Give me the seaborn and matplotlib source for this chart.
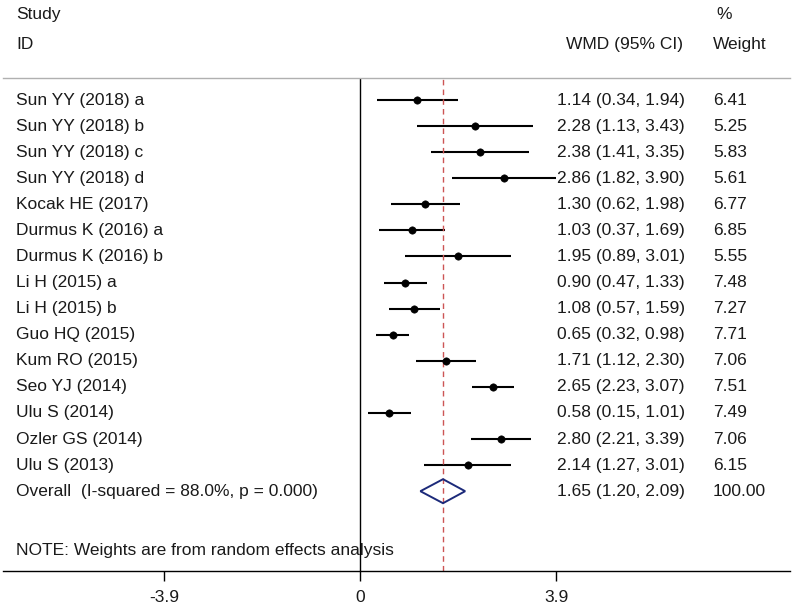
import matplotlib
matplotlib.use("Agg")
import matplotlib.pyplot as plt
import seaborn as sns
import pandas as pd

# study data
studies = ["Sun YY (2018) a", "Sun YY (2018) b", "Sun YY (2018) c", "Sun YY (2018) d",
           "Kocak HE (2017)", "Durmus K (2016) a", "Durmus K (2016) b", "Li H (2015) a",
           "Li H (2015) b", "Guo HQ (2015)", "Kum RO (2015)", "Seo YJ (2014)",
           "Ulu S (2014)", "Ozler GS (2014)", "Ulu S (2013)"]
wmd = [1.14, 2.28, 2.38, 2.86, 1.30, 1.03, 1.95, 0.90, 1.08, 0.65, 1.71, 2.65, 0.58, 2.80, 2.14]
lower = [0.34, 1.13, 1.41, 1.82, 0.62, 0.37, 0.89, 0.47, 0.57, 0.32, 1.12, 2.23, 0.15, 2.21, 1.27]
upper = [1.94, 3.43, 3.35, 3.90, 1.98, 1.69, 3.01, 1.33, 1.59, 0.98, 2.30, 3.07, 1.01, 3.39, 3.01]
weights = [6.41, 5.25, 5.83, 5.61, 6.77, 6.85, 5.55, 7.48, 7.27, 7.71, 7.06, 7.51, 7.49, 7.06, 6.15]

overall_label = "Overall  (I-squared = 88.0%, p = 0.000)"
overall_est = 1.65
overall_lo = 1.20
overall_hi = 2.09
overall_weight = 100.00

tick_vals = [-3.9, 0, 3.9]
tick_labels = ["-3.9", "0", "3.9"]

df = pd.DataFrame({"study": studies, "wmd": wmd, "lower": lower, "upper": upper,
                   "weight": weights, "row": range(len(studies))})

sns.set_style("white")
plt.rcParams["font.family"] = ["Liberation Sans", "DejaVu Sans"]
txt = "#1a1a1a"
fs = 12.5

fig = plt.figure(figsize=(8, 6.11), dpi=100)
W, H = 800, 611
ax = fig.add_axes([3 / W, 1 - 571 / H, 787 / W, (571 - 78) / H])

# CI lines and point estimates
ax.hlines(df["row"], df["lower"], df["upper"], color="black", lw=1.5)
sns.scatterplot(data=df, x="wmd", y="row", marker="o", s=28, color="black",
                edgecolor="black", ax=ax, legend=False, zorder=3)

# overall diamond
n = len(studies)
ax.fill([overall_lo, overall_est, overall_hi, overall_est],
        [n, n - 0.46, n, n + 0.46], facecolor="none", edgecolor="#1c2a7a", lw=1.4, zorder=3)

# reference lines
ax.axvline(0, color="black", lw=1)
ax.axvline(overall_est, color="#cc5555", lw=1, ls=(0, (4, 3)))

ax.set_xlim(-7.10, 8.55)
ax.set_ylim(18.06, -0.844)
ax.set_xticks(tick_vals)
ax.set_xticklabels(tick_labels, fontsize=fs, color=txt)
ax.set_yticks([])
ax.set_xlabel("")
ax.set_ylabel("")
ax.tick_params(axis="x", direction="out", length=7, width=1, color="black", pad=7, bottom=True)
for s in ["left", "right"]:
    ax.spines[s].set_visible(False)
ax.spines["bottom"].set_color("black")
ax.spines["bottom"].set_linewidth(1)
ax.spines["top"].set_color("#b0b0b0")
ax.spines["top"].set_linewidth(1)

tr = ax.get_yaxis_transform()


def fx(px):
    return (px - 3) / 787


# left column labels and right-hand text columns
for i, name in enumerate(studies):
    ax.text(fx(16), i, name, transform=tr, fontsize=fs, color=txt, va="center", clip_on=False)
    ax.text(fx(557), i, f"{wmd[i]:.2f} ({lower[i]:.2f}, {upper[i]:.2f})", transform=tr,
            fontsize=fs, color=txt, va="center", clip_on=False)
    ax.text(fx(713), i, f"{weights[i]:.2f}", transform=tr, fontsize=fs, color=txt,
            va="center", clip_on=False)

ax.text(fx(16), n, overall_label, transform=tr, fontsize=fs, color=txt, va="center", clip_on=False)
ax.text(fx(557), n, f"{overall_est:.2f} ({overall_lo:.2f}, {overall_hi:.2f})", transform=tr,
        fontsize=fs, color=txt, va="center", clip_on=False)
ax.text(fx(713), n, f"{overall_weight:.2f}", transform=tr, fontsize=fs, color=txt,
        va="center", clip_on=False)

ax.text(fx(16), 17.26, "NOTE: Weights are from random effects analysis", transform=tr,
        fontsize=fs, color=txt, va="center", clip_on=False)

# header
ax.text(fx(16), -3.26, "Study", transform=tr, fontsize=fs, color=txt, va="center", clip_on=False)
ax.text(fx(16), -2.11, "ID", transform=tr, fontsize=fs, color=txt, va="center", clip_on=False)
ax.text(fx(566), -2.11, "WMD (95% CI)", transform=tr, fontsize=fs, color=txt, va="center", clip_on=False)
ax.text(fx(716), -3.26, "%", transform=tr, fontsize=fs, color=txt, va="center", clip_on=False)
ax.text(fx(713), -2.11, "Weight", transform=tr, fontsize=fs, color=txt, va="center", clip_on=False)

fig.savefig("out.png", dpi=100)
